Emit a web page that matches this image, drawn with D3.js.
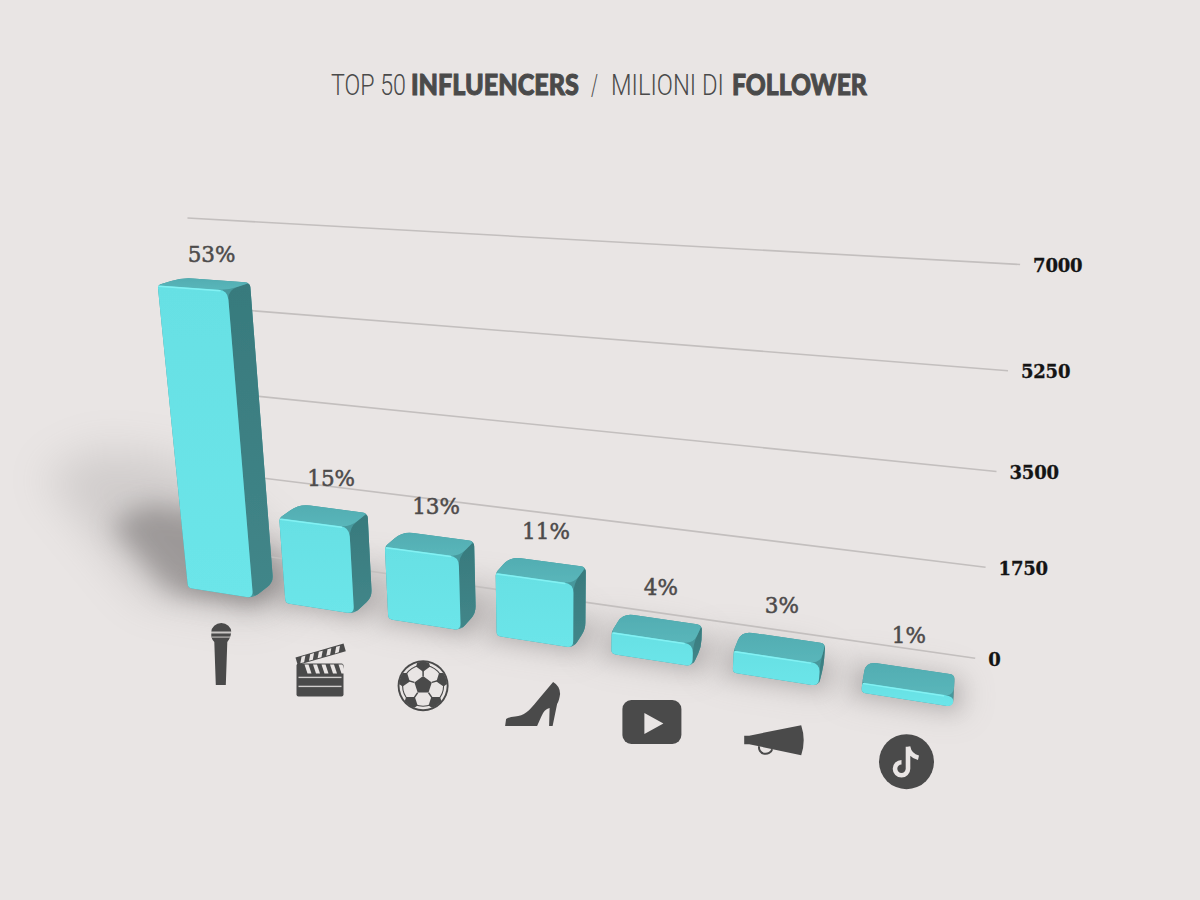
<!DOCTYPE html>
<html><head><meta charset="utf-8">
<script src="https://cdn.jsdelivr.net/npm/d3@7"></script>
<style>html,body{margin:0;padding:0;background:#e9e5e4}svg{display:block}</style>
</head><body><svg id="c" width="1200" height="900"></svg>
<script>
const categories = ["musica","cinema","sport","moda","youtube","marketing","tiktok"];
const followers = [6060, 1760, 1470, 1255, 432, 422, 191];
const shares = ["53%","15%","13%","11%","4%","3%","1%"];
const ticks = [0, 1750, 3500, 5250, 7000];
const titleParts = [
  {t:"TOP 50", bold:false, a:331, b:406},
  {t:"INFLUENCERS", bold:true, a:411, b:579},
  {t:"/", bold:false, a:591, b:598},
  {t:"MILIONI DI", bold:false, a:611, b:724},
  {t:"FOLLOWER", bold:true, a:732, b:867}
];

const BG="#e9e5e4", INK="#4a4a4a";
const svg=d3.select("#c");
const defs=svg.append("defs");
svg.append("rect").attr("width",1200).attr("height",900).attr("fill",BG);

// Three-point perspective camera (vanishing points)
const O=[188,588], VX=[-3525,11], VY=[560,4300], VZ=[984,25];
const a=-1/(O[0]-VX[0]), b=-1/(VY[1]-O[1]), c=1/975;
function P(X,Y,Z){
  const w=1+a*X+b*Y+c*Z;
  return [(O[0]+a*VX[0]*X+b*VY[0]*Y+c*VZ[0]*Z)/w,
          (O[1]+a*VX[1]*X+b*VY[1]*Y+c*VZ[1]*Z)/w];
}
const x=d3.scaleBand().domain(categories).range([0,634]).paddingInner(31/95).paddingOuter(0);
const y=d3.scaleLinear().domain([0,7000]).range([0,323.4]);
const DEPTH=27, GRIDZ=66, GRIDX0=-22, GRIDX1=649;

function blur(id,s){
  defs.append("filter").attr("id",id).attr("x","-60%").attr("y","-60%").attr("width","220%").attr("height","220%")
    .append("feGaussianBlur").attr("stdDeviation",s);
}
blur("b22",22);blur("b16",16);blur("b13",13);blur("b9",9);blur("soft",0.7);

function poly(pts){return "M"+pts.map(p=>p.map(v=>v.toFixed(1)).join(",")).join("L")+"Z";}
function rounded(pts,rad){
  const n=pts.length;let d="";
  for(let i=0;i<n;i++){
    const p=pts[i],q=pts[(i+n-1)%n],r=pts[(i+1)%n],R=rad[i];
    const lq=Math.hypot(q[0]-p[0],q[1]-p[1]),lr=Math.hypot(r[0]-p[0],r[1]-p[1]);
    const u=Math.min(R,lq*0.45),v=Math.min(R,lr*0.45);
    const s=[p[0]+(q[0]-p[0])*u/lq,p[1]+(q[1]-p[1])*u/lq];
    const e=[p[0]+(r[0]-p[0])*v/lr,p[1]+(r[1]-p[1])*v/lr];
    d+=(i?"L":"M")+s[0].toFixed(1)+","+s[1].toFixed(1)+"Q"+p[0].toFixed(1)+","+p[1].toFixed(1)+" "+e[0].toFixed(1)+","+e[1].toFixed(1);
  }
  return d+"Z";
}

// Ground shadows: each bar throws a shadow proportional to its height
const sh=svg.append("g");
const LX=-1.03, LZ=0.66;
function shadowPath(x0,x1,h,k,g){
  const ox=h*LX*k, oz=h*LZ*k;
  return poly([P(x0-g,0,-g),P(x0+ox-g,0,oz-g),P(x0+ox-g,0,DEPTH+oz+g),P(x1+ox+g,0,DEPTH+oz+g),P(x1+g,0,DEPTH+g),P(x1+g,0,-g)]);
}
categories.forEach((cat,i)=>{
  const x0=x(cat),x1=x0+x.bandwidth(),h=y(followers[i]);
  if(h>100){
    sh.append("path").attr("d",shadowPath(x0,x1,h,1,24)).attr("fill","#7c7878").attr("opacity",.22).attr("filter","url(#b22)");
    sh.append("path").attr("d",shadowPath(x0,x1,h,.5,10)).attr("fill","#6a6666").attr("opacity",.5).attr("filter","url(#b13)");
  }else{
    sh.append("path").attr("d",shadowPath(x0,x1,h,1,8)).attr("fill","#7a7676").attr("opacity",.26).attr("filter","url(#b16)");
  }
  sh.append("path").attr("d",shadowPath(x0,x1,0,0,4)).attr("fill","#6a6666").attr("opacity",.24).attr("filter","url(#b9)");
});

// Gridlines and tick labels
const grid=svg.append("g");
ticks.forEach(t=>{
  const s=P(GRIDX0,y(t),GRIDZ), e=P(GRIDX1,y(t),GRIDZ);
  grid.append("line").attr("x1",s[0]).attr("y1",s[1]).attr("x2",e[0]).attr("y2",e[1])
    .attr("stroke","#c3bfbe").attr("stroke-width",1.6);
  grid.append("text").attr("x",e[0]+13).attr("y",e[1]+7.5).text(t)
    .attr("font-family","'DejaVu Serif'").attr("font-weight",700).attr("font-size",18).attr("letter-spacing",-0.2).attr("fill","#141414")
    .attr("stroke","#141414").attr("stroke-width",0.3);
});

// Bars
function vgrad(id,c1,c2){
  const g=defs.append("linearGradient").attr("id",id).attr("x1",0).attr("y1",0).attr("x2",0).attr("y2",1);
  g.append("stop").attr("offset",0).attr("stop-color",c1);
  g.append("stop").attr("offset",1).attr("stop-color",c2);
}
vgrad("frontG","#66e0e4","#6ce5e9");
vgrad("sideG","#387a7d","#418689");
vgrad("topG","#51adb2","#5ab6ba");
const bars=svg.append("g");
categories.forEach((cat,i)=>{
  const x0=x(cat),x1=x0+x.bandwidth(),h=y(followers[i]);
  const g=bars.append("g").attr("filter","url(#soft)");
  const fBL=P(x0,0,0),fBR=P(x1,0,0),fTR=P(x1,h,0),fTL=P(x0,h,0);
  const bBR=P(x1,0,DEPTH),bTR=P(x1,h,DEPTH),bTL=P(x0,h,DEPTH);
  g.append("path").attr("d",rounded([fBL,fBR,bBR,bTR,bTL,fTL],[4,7,7,5,11,3])).attr("fill","#46989c");
  g.append("path").attr("d",rounded([fBR,bBR,bTR,fTR],[7,7,5,10])).attr("fill","url(#sideG)");
  g.append("path").attr("d",rounded([fTL,fTR,bTR,bTL],[3,10,5,11])).attr("fill","url(#topG)");
  g.append("path").attr("d",rounded([fBL,fBR,fTR,fTL],[4,7,9,3])).attr("fill","url(#frontG)");
  // lit bevel along front top edge
  g.append("path").attr("d",`M${P(x0+1,h-.8,0)}L${P(x1-7,h-.8,0)}`).attr("stroke","#83f1f3").attr("stroke-width",1.5).attr("fill","none").attr("stroke-linecap","round");
});

// Share labels
const labels=svg.append("g");
categories.forEach((cat,i)=>{
  const m=x(cat)+x.bandwidth()/2, h=y(followers[i]), p=P(m,h,DEPTH);
  labels.append("text").attr("x",p[0]-1-3*h/280).attr("y",p[1]-(18+(p[1]-280)*0.018)).attr("text-anchor","middle").text(shares[i])
    .attr("font-family","'DejaVu Serif'").attr("font-size",21.5).attr("fill","#4d4b4b")
    .attr("stroke","#4d4b4b").attr("stroke-width",0.5);
});

// Category icons
function drawMic(g){
  g.append("path").attr("d","M-9,-23A10,9 0 0 1 11,-23L10,-18Q8,-14 7,-13L5.5,30H-4.5L-6,-13Q-8,-15 -9,-18Z").attr("fill",INK);
  g.append("rect").attr("x",-10).attr("y",-23.5).attr("width",22).attr("height",2).attr("fill",BG).attr("opacity",.8);
  g.append("rect").attr("x",-9).attr("y",-18.5).attr("width",20).attr("height",1.2).attr("fill",BG).attr("opacity",.7);
}
function drawClap(g){
  g.append("rect").attr("x",-23).attr("y",-7).attr("width",47).attr("height",33).attr("rx",2).attr("fill",INK);
  [7,16].forEach(v=>g.append("rect").attr("x",-21).attr("y",v-.7).attr("width",43).attr("height",1.4).attr("fill",BG).attr("opacity",.85));
  d3.range(5).forEach(k=>g.append("path").attr("d",`M${-15+k*8.5},-6L${-11+k*8.5},-6L${-8+k*8.5},3L${-12+k*8.5},3Z`).attr("fill",BG));
  const arm=g.append("g").attr("transform","translate(-24,-13) rotate(-16)");
  arm.append("rect").attr("x",0).attr("y",0).attr("width",50).attr("height",8).attr("fill",INK);
  d3.range(5).forEach(k=>arm.append("path").attr("d",`M${6+k*9},1L${10+k*9},1L${7+k*9},7L${3+k*9},7Z`).attr("fill",BG));
}
function drawBall(g){
  g.attr("transform",g.attr("transform"));
  const t0=g.append("g").attr("transform","translate(-1,-1)");
  t0.append("circle").attr("r",25.5).attr("fill",INK);
  t0.append("circle").attr("r",23.6).attr("fill",BG);
  const pent=(cx,cy,r,rot)=>d3.range(5).map(k=>{const t=rot+k*2*Math.PI/5;return [cx+r*Math.sin(t),cy-r*Math.cos(t)];});
  defs.append("clipPath").attr("id","ballclip").append("circle").attr("r",24);
  const inner=t0.append("g").attr("clip-path","url(#ballclip)");
  inner.append("circle").attr("r",20.5).attr("fill","none").attr("stroke",INK).attr("stroke-width",1.1);
  const centre=pent(0,-0.5,9.2,0);
  inner.append("path").attr("d",poly(centre)).attr("fill",INK);
  d3.range(5).forEach(k=>{
    const t=k*2*Math.PI/5, v=centre[k];
    const cx=21.5*Math.sin(t), cy=-21.5*Math.cos(t);
    inner.append("path").attr("d",poly(pent(cx,cy,7.5,t+Math.PI))).attr("fill",INK);
    inner.append("line").attr("x1",v[0]).attr("y1",v[1]).attr("x2",cx).attr("y2",cy).attr("stroke",INK).attr("stroke-width",1.5);
  });
}
function drawHeel(g){
  g.append("path").attr("d","M-29.5,22L-28.5,15Q-25.5,13 -19.5,12.5C-10.5,12 -5.5,7 2.5,-3L18.5,-22Q25.5,-18 25.5,-10Q24.5,-3 22.5,0L18,22H14.5L15,4Q9.5,5 6.5,13L2.5,22Z").attr("fill",INK);
}
function drawYT(g){
  g.append("rect").attr("x",-29).attr("y",-22).attr("width",59).attr("height",44).attr("rx",9).attr("fill",INK);
  g.append("path").attr("d","M-7,-9L12,1.5L-7,12Z").attr("fill",BG);
}
function drawHorn(g){
  g.append("g").attr("transform","translate(-1,-2)").call(s=>{
    s.append("path").attr("d","M-30,-3.5L-25,-3.5L27,-14Q32,1 27,16L-25,5L-30,5Z").attr("fill",INK);
    s.append("path").attr("d","M-15,7A6,5.5 0 0 0 -2,10").attr("fill","none").attr("stroke",INK).attr("stroke-width",2);
  });
}
function drawTik(g){
  g.append("circle").attr("r",27.5).attr("fill",INK);
  g.append("path").attr("d","M1.5,-15V7A6.5,6.5 0 1 1 -5,0.5M1.5,-15Q3,-6 12,-4").attr("fill","none").attr("stroke",BG).attr("stroke-width",4.6);
}
const iconDraw=[drawMic,drawClap,drawBall,drawHeel,drawYT,drawHorn,drawTik];
const icons=svg.append("g");
categories.forEach((cat,i)=>{
  const p=P(x(cat)+x.bandwidth()/2,0,0);
  iconDraw[i](icons.append("g").attr("transform",`translate(${p[0].toFixed(1)},${(p[1]+62).toFixed(1)})`));
});

// Title: each run is fitted horizontally to its span
const title=svg.append("g");
titleParts.forEach(d=>{
  const t=title.append("text").text(d.t)
    .attr("font-family",d.bold?"Lato,Roboto":"Roboto,'Noto Sans'")
    .attr("font-weight",d.bold?900:300).attr("font-size",d.bold?29:29.5).attr("fill",INK);
  if(d.bold) t.attr("stroke",INK).attr("stroke-width",1);
  const w=t.node().getComputedTextLength();
  t.attr("transform",`translate(${d.a},95) scale(${((d.b-d.a)/w).toFixed(3)},1)`);
});
</script></body></html>
